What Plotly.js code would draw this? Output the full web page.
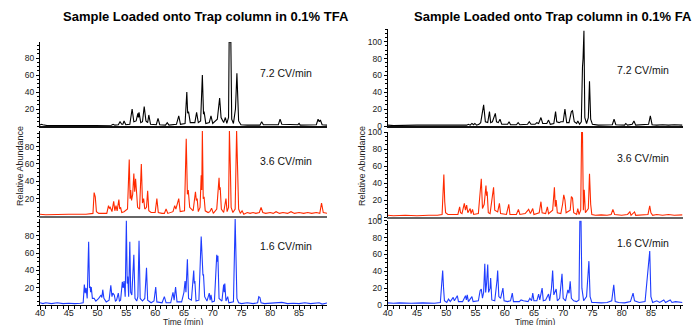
<!DOCTYPE html>
<html>
<head>
<meta charset="utf-8">
<script src="https://cdn.plot.ly/plotly-3.0.1.min.js"></script>
<style>html,body{margin:0;padding:0;background:#fff;}#chart{width:694px;height:325px;}</style>
</head>
<body>
<div id="chart"></div>
<script>
// ---- Data: [time (min), relative abundance] ----
var tfa72 = [[40,1],[40.2,2],[40.5,1.5],[40.8,1],[41.2,0.5],[47,0.5],[52.4,0.8],[52.7,2],[53.0,1],[53.6,1.5],[53.9,5],[54.2,2],[54.4,2],[54.6,6],[54.9,1.5],[55.6,2],[56.0,20],[56.3,5],[56.7,6],[57.0,15],[57.1,10],[57.2,16],[57.5,4],[57.8,5],[58.1,23],[58.4,6],[58.7,4],[58.9,13],[59.2,2],[60.2,1.5],[60.5,9],[60.8,1.5],[61.8,1],[62.1,4],[62.4,1],[63.7,2],[64.1,12],[64.4,2],[65.2,3],[65.5,40],[65.65,15],[65.8,17],[66.1,4],[66.9,4],[67.2,16],[67.5,4],[67.9,6],[68.2,60],[68.4,14],[68.5,17],[68.8,3],[69.4,4],[69.7,12],[70.0,3],[70.8,8],[71.0,20],[71.2,33],[71.45,10],[71.9,4],[72.2,10],[72.45,3],[72.75,10],[72.85,99],[73.15,99],[73.3,8],[73.6,3],[73.95,20],[74.2,62],[74.5,6],[74.9,1.5],[76,1],[78.2,1],[78.5,5],[78.8,1.5],[81.4,1.5],[81.7,8],[82.0,2],[84.8,1.5],[85.0,3],[85.2,1],[88.0,1.5],[88.3,8],[88.5,5],[88.7,7],[89.0,1.5],[90,1]];

var tfa36 = [[40,2],[41,1.5],[45,2],[48,2],[49.2,3],[49.4,27],[49.6,22],[49.8,5],[50.2,3],[51.6,3],[51.9,12],[52.05,9],[52.2,10],[52.5,5],[52.8,17],[53.0,6],[53.2,12],[53.4,6],[53.7,19],[53.85,8],[54.0,10],[54.2,4],[54.6,5],[55.2,8],[55.5,65],[55.65,20],[55.75,30],[55.9,18],[56.1,25],[56.3,49],[56.45,28],[56.6,43],[56.8,25],[56.95,10],[57.3,8],[57.6,60],[57.8,15],[58.0,20],[58.2,8],[58.5,10],[58.7,29],[58.9,6],[59.3,4],[60.0,4],[60.3,20],[60.55,4],[61.2,3],[61.6,3],[61.9,8],[62.2,3],[63.1,5],[63.4,12],[63.6,8],[64.1,20],[64.35,5],[65.1,6],[65.4,89],[65.6,25],[65.75,30],[66.0,10],[66.6,6],[67.0,28],[67.15,18],[67.3,20],[67.5,5],[67.8,10],[68.0,47],[68.1,30],[68.2,99],[68.35,20],[68.5,22],[68.7,6],[69.2,4],[69.5,5],[69.8,9],[70.1,3],[70.7,8],[71.1,44],[71.2,30],[71.3,33],[71.5,8],[71.9,4],[72.3,20],[72.5,5],[72.75,10],[72.9,98],[73.05,60],[73.2,10],[73.5,4],[73.9,8],[74.15,98],[74.3,40],[74.5,8],[74.8,3],[75.1,6],[75.4,2],[76,4],[76.5,3],[77,4],[77.5,3],[78.1,4],[78.4,10],[78.7,4],[79.2,3],[80,4],[80.5,3],[81,5],[81.6,3],[82.2,4],[83,3],[83.6,5],[84.2,3],[85,4],[85.8,3],[86.5,4],[87.2,3],[88,4],[88.6,3],[88.9,15],[89.2,4],[90,3]];

var tfa16 = [[40,3],[40.5,2],[41,3],[42,2],[43,3],[44,2],[45,2.5],[46,2],[47,2.5],[47.5,3],[47.7,24],[47.85,14],[48.0,20],[48.2,8],[48.45,73],[48.6,20],[48.7,22],[48.8,15],[48.9,21],[49.1,8],[49.4,8],[49.7,5],[50.2,8],[50.6,12],[50.75,9],[50.9,18],[51.1,8],[51.5,4],[52.0,6],[52.3,23],[52.5,10],[52.65,14],[52.9,12],[53.1,5],[53.3,6],[53.6,14],[53.8,5],[54.0,6],[54.3,27],[54.45,20],[54.6,28],[54.8,10],[55.0,97],[55.15,25],[55.25,33],[55.4,10],[55.6,73],[55.75,15],[55.95,12],[56.3,58],[56.5,8],[56.8,5],[57.0,10],[57.2,74],[57.4,8],[57.8,5],[58.2,8],[58.5,43],[58.7,6],[59.3,3],[59.8,5],[60.1,21],[60.3,4],[61.2,3],[61.6,10],[61.9,3],[62.7,3],[63.1,15],[63.3,6],[63.55,21],[63.8,4],[64.6,4],[65.0,15],[65.2,28],[65.35,15],[65.6,53],[65.8,8],[66.3,6],[66.7,40],[66.8,25],[66.9,28],[67.1,5],[67.6,6],[68.0,79],[68.1,55],[68.2,57],[68.3,35],[68.4,35],[68.6,10],[69.0,5],[69.4,14],[69.55,6],[69.7,12],[69.9,4],[70.3,5],[70.7,58],[70.8,50],[70.9,57],[71.1,8],[71.6,5],[71.9,24],[72.0,15],[72.1,25],[72.3,5],[72.6,10],[72.8,3],[73.6,4],[73.9,99],[74.05,35],[74.2,8],[74.5,3],[75,2],[76,3],[77,2],[77.8,3],[78.0,10],[78.2,9],[78.4,3],[79,2],[80,2.5],[81,3],[81.5,4],[82,3.5],[83,2],[84,2.5],[85,2],[86,3],[87,2],[88,2.5],[88.5,3],[89,1.5],[90,3]];

var fa72 = [[40,1],[41,0.5],[45,1],[48,0.5],[50,1],[52,1],[53.5,1],[53.8,2],[54.1,1],[54.4,3],[54.7,1.5],[54.9,3],[55.2,1],[55.6,2],[55.9,4],[56.4,25],[56.7,5],[57.1,4],[57.4,17],[57.6,4],[57.9,5],[58.4,15],[58.6,5],[58.9,4],[59.2,8],[59.5,2],[60.5,2],[60.75,5],[61.0,1.5],[62.0,1.5],[62.3,4],[62.6,1.5],[63.9,2],[64.2,5],[64.5,2],[65.2,2],[65.5,4],[65.8,3],[66.2,10],[66.5,3],[67.2,3],[67.5,7],[67.8,2],[68.4,3],[68.7,17],[68.9,5],[69.3,4],[69.6,5],[70.0,5],[70.3,20],[70.6,4],[71.0,4],[71.4,17],[71.6,18],[71.9,5],[72.3,3],[72.5,6],[72.8,2],[73.1,5],[73.3,70],[73.4,80],[73.55,113],[73.7,10],[74.0,3],[74.3,10],[74.5,53],[74.7,8],[75.0,2],[76,1],[78.4,1.5],[78.7,8],[79.0,1.5],[80.5,1],[80.7,3],[81.0,1],[81.8,2],[82.1,6],[82.4,1],[84.6,2],[84.9,12],[85.2,1.5],[86,1],[87,1.5],[88,1],[89,1.5],[90.4,1]];

var fa36 = [[40,2],[41,1.5],[43,2],[45,1.5],[47,2],[48.5,2],[49.3,3],[49.45,23],[49.6,50],[49.75,18],[49.9,5],[50.3,3],[51.5,3],[52.0,3],[52.3,12],[52.45,5],[52.7,4],[53.1,16],[53.3,8],[53.5,14],[53.7,5],[54.1,10],[54.25,4],[54.5,9],[54.7,3],[55.5,4],[56.0,45],[56.2,10],[56.5,15],[56.8,37],[56.9,25],[57.0,30],[57.2,5],[57.5,4],[58.1,35],[58.3,8],[58.8,6],[59.1,16],[59.3,4],[60.3,3],[60.7,15],[60.9,3],[62.0,3],[62.35,9],[62.6,3],[63.5,4],[64.1,9],[64.4,4],[64.8,10],[65.0,3],[65.9,5],[66.2,18],[66.4,5],[67.0,4],[67.3,12],[67.5,4],[68.2,8],[68.5,35],[68.65,12],[68.8,20],[69.0,5],[69.6,4],[69.9,15],[70.1,26],[70.3,20],[70.5,5],[71.2,8],[71.4,24],[71.6,22],[71.8,5],[72.3,3],[72.5,10],[72.7,3],[73.0,8],[73.15,100],[73.3,100],[73.45,8],[73.6,32],[73.8,5],[74.3,10],[74.5,51],[74.7,15],[74.9,3],[75.5,2],[76.5,2.5],[77.5,2],[78.2,3],[78.5,9],[78.8,3],[80,2],[81,3],[81.4,6],[81.6,2],[82.2,6],[82.4,2],[83,2.5],[84.5,3],[84.8,13],[85.0,5],[85.3,2],[86,3],[87,2],[88,3],[89,2],[90.4,2.5]];

var fa16 = [[40,2.5],[41,2],[42,2.5],[44,2],[46,2.5],[48,2],[49.0,3],[49.2,20],[49.4,41],[49.55,20],[49.7,5],[50.1,3],[50.4,7],[50.7,4],[51.2,9],[51.4,5],[51.9,11],[52.1,4],[52.8,4],[53.3,11],[53.45,6],[53.6,12],[53.8,4],[54.4,10],[54.6,4],[55.5,5],[55.8,17],[56.0,19],[56.2,8],[56.4,15],[56.6,49],[56.75,15],[56.9,25],[57.1,48],[57.25,15],[57.5,20],[57.6,32],[57.8,6],[58.3,5],[58.7,30],[58.8,41],[59.0,10],[59.3,8],[59.7,20],[59.9,5],[60.5,4],[61.0,5],[61.3,14],[61.5,4],[62.5,4],[62.8,6],[63.2,5],[64.0,4],[64.3,8],[64.6,5],[64.8,14],[65.0,5],[65.5,5],[65.8,13],[66.0,6],[66.4,20],[66.6,5],[67.0,6],[67.5,13],[67.7,5],[68.0,20],[68.2,41],[68.4,12],[68.8,19],[69.0,5],[69.4,8],[69.8,37],[70.0,8],[70.4,5],[70.8,18],[71.0,14],[71.2,28],[71.4,8],[71.8,5],[72.3,4],[72.7,6],[72.85,100],[73.05,100],[73.2,20],[73.5,5],[74.0,10],[74.4,52],[74.6,10],[74.9,3],[75.5,3],[76.5,2.5],[77.5,3],[78.3,5],[78.65,24],[78.9,4],[79.5,3],[80.5,2.5],[81.5,4],[81.95,14],[82.2,5],[83,3],[84.0,4],[84.4,30],[84.8,64],[85.0,10],[85.3,3],[86.0,5],[86.5,3],[87.2,6],[87.5,3],[88.3,6],[88.6,3],[89.2,4],[90.4,3]];

var panelTitles = ["Sample Loaded onto Trap column in 0.1% TFA", "Sample Loaded onto Trap column in 0.1% FA"];
var rateLabels = ["7.2 CV/min", "3.6 CV/min", "1.6 CV/min"];
var xTicks = [40, 45, 50, 55, 60, 65, 70, 75, 80, 85];
var yTicksLeft = [20, 40, 60, 80];
var yTicksRight = [0, 20, 40, 60, 80, 100];

// ---- Layout constants ----
var W = 694, H = 325;
var FONT = "Liberation Sans, Arial, Helvetica, sans-serif";
var colors = ["#000000", "#ff2a00", "#1f3dff"];
var series = [tfa72, tfa36, tfa16, fa72, fa36, fa16];
function px(x){ return x / W; }
function py(y){ return 1 - y / H; }

var colX = [[px(40), px(327)], [px(387.7), px(682.5)]];
var rowsPx = [
  [[42,126],[131,216],[219,305.4]],
  [[29,126],[132,217],[220.7,305]]
];
var yRanges = [[[0,99],[0,98],[0,99]], [[0,115],[0,100],[0,100]]];
var xRanges = [[40, 89.85], [40, 90.4]];

var traces = [];
var layout = {
  width: W, height: H,
  margin: {l:0, r:0, t:0, b:0},
  paper_bgcolor: "#fff", plot_bgcolor: "#fff",
  showlegend: false,
  font: {family: FONT, size: 8.5, color: "#222"},
  annotations: []
};

for (var c = 0; c < 2; c++) {
  for (var r = 0; r < 3; r++) {
    var i = c * 3 + r;
    var n = i + 1;
    var xs = series[i].map(function(p){ return p[0]; });
    var ys = series[i].map(function(p){ return p[1]; });
    traces.push({
      x: xs, y: ys, type: "scatter", mode: "lines",
      line: {color: colors[r], width: 1.1},
      xaxis: "x" + (n === 1 ? "" : n), yaxis: "y" + (n === 1 ? "" : n),
      hoverinfo: "skip"
    });
    var isBottom = (r === 2);
    var xa = {
      domain: colX[c], range: xRanges[c], anchor: "y" + (n === 1 ? "" : n),
      showgrid: false, zeroline: false, showline: true,
      linecolor: isBottom ? "#000" : (r === 0 ? "#111" : "#666"),
      linewidth: isBottom ? 1 : 2,
      ticks: isBottom ? "outside" : "", ticklen: 4, tickwidth: 1, tickcolor: "#000",
      tickvals: xTicks, showticklabels: isBottom,
      ticklabelstandoff: -5,
      tickfont: {family: FONT, size: 9, color: "#222"},
      minor: isBottom ? {dtick: 1, ticks: "outside", ticklen: 2.5, tickcolor: "#000", tickwidth: 1} : undefined
    };
    var ya = {
      domain: [py(rowsPx[c][r][1]), py(rowsPx[c][r][0])], range: yRanges[c][r],
      anchor: "x" + (n === 1 ? "" : n),
      showgrid: false, zeroline: false, showline: true, linecolor: "#000", linewidth: 1,
      ticks: "outside", ticklen: 3, tickwidth: 1, tickcolor: "#000",
      tickvals: c === 0 ? yTicksLeft : yTicksRight,
      tickfont: {family: FONT, size: 8.5, color: "#222"},
      minor: {dtick: 5, ticks: "outside", ticklen: 2, tickcolor: "#000", tickwidth: 1}
    };
    layout["xaxis" + (n === 1 ? "" : n)] = xa;
    layout["yaxis" + (n === 1 ? "" : n)] = ya;
  }
}

// panel titles
var titleX = [206, 553];
for (var c2 = 0; c2 < 2; c2++) {
  layout.annotations.push({
    xref: "paper", yref: "paper", x: px(titleX[c2]), y: py(17),
    xanchor: "center", yanchor: "middle", showarrow: false,
    text: "<b>" + panelTitles[c2] + "</b>",
    font: {family: FONT, size: 13, color: "#000"}
  });
}
// rate labels
var labelPx = [[258, [73, 161, 246]], [615, [70, 158, 243]]];
for (var c3 = 0; c3 < 2; c3++) {
  for (var r3 = 0; r3 < 3; r3++) {
    layout.annotations.push({
      xref: "paper", yref: "paper", x: px(labelPx[c3][0]), y: py(labelPx[c3][1][r3]),
      xanchor: "left", yanchor: "middle", showarrow: false,
      text: rateLabels[r3], font: {family: FONT, size: 10.5, color: "#111"}
    });
  }
}
// axis titles
var yTitleX = [20, 362];
var xTitleX = [183.5, 535];
for (var c4 = 0; c4 < 2; c4++) {
  layout.annotations.push({
    xref: "paper", yref: "paper", x: px(yTitleX[c4]), y: py(166),
    xanchor: "center", yanchor: "middle", showarrow: false, textangle: -90,
    text: "Relative Abundance", font: {family: FONT, size: 9, color: "#222"}
  });
  layout.annotations.push({
    xref: "paper", yref: "paper", x: px(xTitleX[c4]), y: py(321.5),
    xanchor: "center", yanchor: "middle", showarrow: false,
    text: "Time (min)", font: {family: FONT, size: 8.5, color: "#222"}
  });
}

Plotly.newPlot("chart", traces, layout, {staticPlot: true, displayModeBar: false});
</script>
</body>
</html>
